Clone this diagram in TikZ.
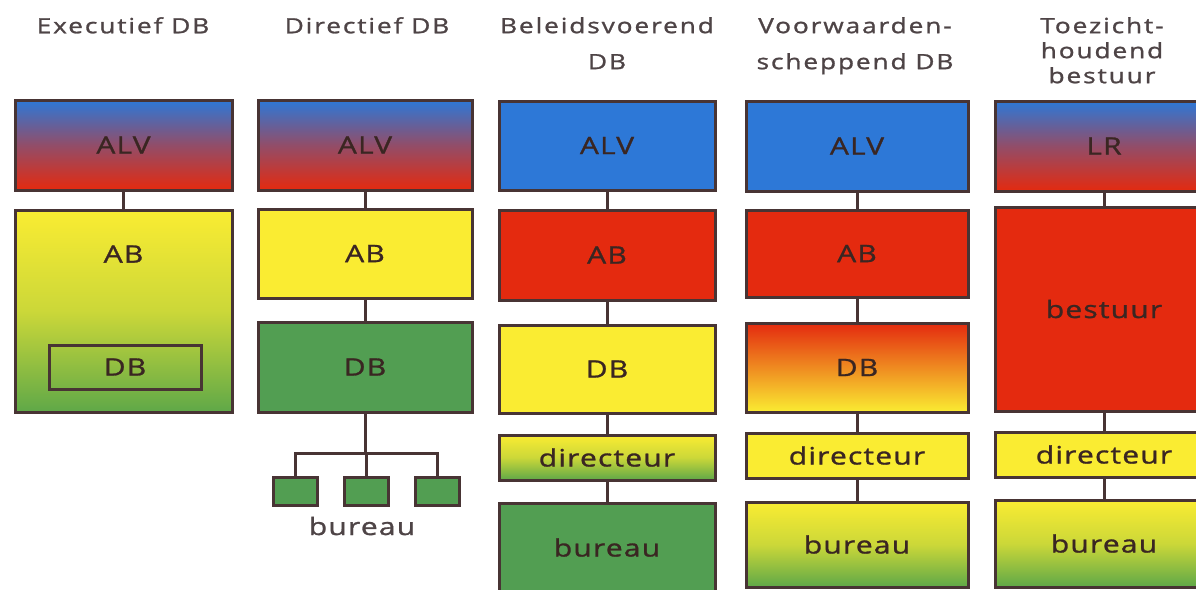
\documentclass[tikz,border=0pt]{standalone}
\usepackage{fontspec}
\setmainfont{Open Sans}[FakeStretch=1.25,LetterSpace=5,FakeBold=1.2]
\newfontfamily\titlefont{Open Sans}[FakeStretch=1.25,LetterSpace=9,FakeBold=1.2]
\definecolor{cblue}{RGB}{45,120,215}
\definecolor{cred}{RGB}{228,42,15}
\definecolor{cyel}{RGB}{250,236,50}
\definecolor{cgreen}{RGB}{82,158,82}
\definecolor{cgreenb}{RGB}{95,168,72}
\definecolor{cline}{RGB}{72,52,52}
\definecolor{ctext}{RGB}{58,38,34}
\definecolor{ctitle}{RGB}{78,68,70}
\tikzset{
  box/.style={draw=cline, line width=3pt, inner sep=0pt, text=ctext,
    font=\fontsize{24}{28}\selectfont},
  conn/.style={draw=cline, line width=3pt},
  lbl/.style={text=ctext, inner sep=0pt, font=\fontsize{24}{28}\selectfont},
  ttl/.style={text=ctitle, inner sep=0pt, align=center, anchor=north,
    font=\titlefont\fontsize{21}{36}\selectfont},
  ttlb/.style={ttl, font=\titlefont\fontsize{21}{25}\selectfont},
  blue/.style={fill=cblue},
  red/.style={fill=cred},
  yel/.style={fill=cyel},
  green/.style={fill=cgreen},
  bluered/.style={top color=cblue, bottom color=cred, middle color=cblue!45!cred},
  yelgreen/.style={top color=cyel, bottom color=cgreenb, middle color=cyel!70!cgreenb},
  redyel/.style={top color=cred, bottom color=cyel, middle color=cred!50!cyel},
}
\begin{document}
\begin{tikzpicture}[x=1pt,y=-1pt]
\useasboundingbox (0,0) rectangle (1196,589);
\clip (0,0) rectangle (1196,589);
\fill[white] (0,0) rectangle (1196,589);
% titles
\node[ttl] (t1) at (123,17) {Executief DB};
\node[ttl] (t2) at (367,17) {Directief DB};
\node[ttl] (t3) at (607,17) {Beleidsvoerend\\DB};
\node[ttl] (t4) at (855,17) {Voorwaarden-\\scheppend DB};
\node[ttlb] (t5) at (1102,17) {Toezicht-\\houdend\\bestuur};
% column 1
\node[box, bluered, minimum width=217pt, minimum height=90pt] (alv1) at (123.5,145) {ALV};
\node[box, yelgreen, minimum width=217pt, minimum height=202pt] (ab1) at (123.5,311) {};
\node[lbl] (ab1t) at (123.5,254) {AB};
\node[box, minimum width=152pt, minimum height=44pt] (db1) at (125,367) {DB};
\draw[conn] (alv1.south) -- (alv1.south |- ab1.north);
% column 2
\node[box, bluered, minimum width=214pt, minimum height=90pt] (alv2) at (365,145) {ALV};
\node[box, yel, minimum width=214pt, minimum height=89pt] (ab2) at (365,253.5) {AB};
\node[box, green, minimum width=214pt, minimum height=90pt] (db2) at (365,367) {DB};
\coordinate (j2) at (365,453);
\node[box, green, minimum width=44pt, minimum height=28pt] (s21) at (295,491) {};
\node[box, green, minimum width=44pt, minimum height=28pt] (s22) at (366,491) {};
\node[box, green, minimum width=44pt, minimum height=28pt] (s23) at (437,491) {};
\node[lbl, text=ctitle, anchor=base] (bur2) at (362,535) {bureau};
\draw[conn] (alv2.south) -- (alv2.south |- ab2.north);
\draw[conn] (ab2.south) -- (ab2.south |- db2.north);
\draw[conn] (db2.south) -- (j2);
\draw[conn] (s21.north) -- (s21.north |- j2) -- (s23.north |- j2) -- (s23.north);
\draw[conn] (s22.north |- j2) -- (s22.north);
% column 3
\node[box, blue, minimum width=216pt, minimum height=89pt] (alv3) at (607,145.5) {ALV};
\node[box, red, minimum width=216pt, minimum height=90pt] (ab3) at (607,255) {AB};
\node[box, yel, minimum width=216pt, minimum height=88pt] (db3) at (607,369) {DB};
\node[box, yelgreen, minimum width=216pt, minimum height=45pt] (dir3) at (607,457.5) {directeur};
\node[box, green, minimum width=216pt, minimum height=89pt] (bur3) at (607,547.5) {bureau};
\draw[conn] (alv3.south) -- (alv3.south |- ab3.north);
\draw[conn] (ab3.south) -- (ab3.south |- db3.north);
\draw[conn] (db3.south) -- (db3.south |- dir3.north);
\draw[conn] (dir3.south) -- (dir3.south |- bur3.north);
% column 4
\node[box, blue, minimum width=222pt, minimum height=90pt] (alv4) at (857,146) {ALV};
\node[box, red, minimum width=222pt, minimum height=87pt] (ab4) at (857,253.5) {AB};
\node[box, redyel, minimum width=222pt, minimum height=89pt] (db4) at (857,367.5) {DB};
\node[box, yel, minimum width=222pt, minimum height=45pt] (dir4) at (857,455.5) {directeur};
\node[box, yelgreen, minimum width=222pt, minimum height=85pt] (bur4) at (857,544.5) {bureau};
\draw[conn] (alv4.south) -- (alv4.south |- ab4.north);
\draw[conn] (ab4.south) -- (ab4.south |- db4.north);
\draw[conn] (db4.south) -- (db4.south |- dir4.north);
\draw[conn] (dir4.south) -- (dir4.south |- bur4.north);
% column 5
\node[box, bluered, minimum width=218pt, minimum height=90pt] (lr5) at (1104,146) {LR};
\node[box, red, minimum width=218pt, minimum height=204pt] (best5) at (1104,309) {bestuur};
\node[box, yel, minimum width=218pt, minimum height=45pt] (dir5) at (1104,454.5) {directeur};
\node[box, yelgreen, minimum width=218pt, minimum height=87pt] (bur5) at (1104,543.5) {bureau};
\draw[conn] (lr5.south) -- (lr5.south |- best5.north);
\draw[conn] (best5.south) -- (best5.south |- dir5.north);
\draw[conn] (dir5.south) -- (dir5.south |- bur5.north);
\end{tikzpicture}
\end{document}
